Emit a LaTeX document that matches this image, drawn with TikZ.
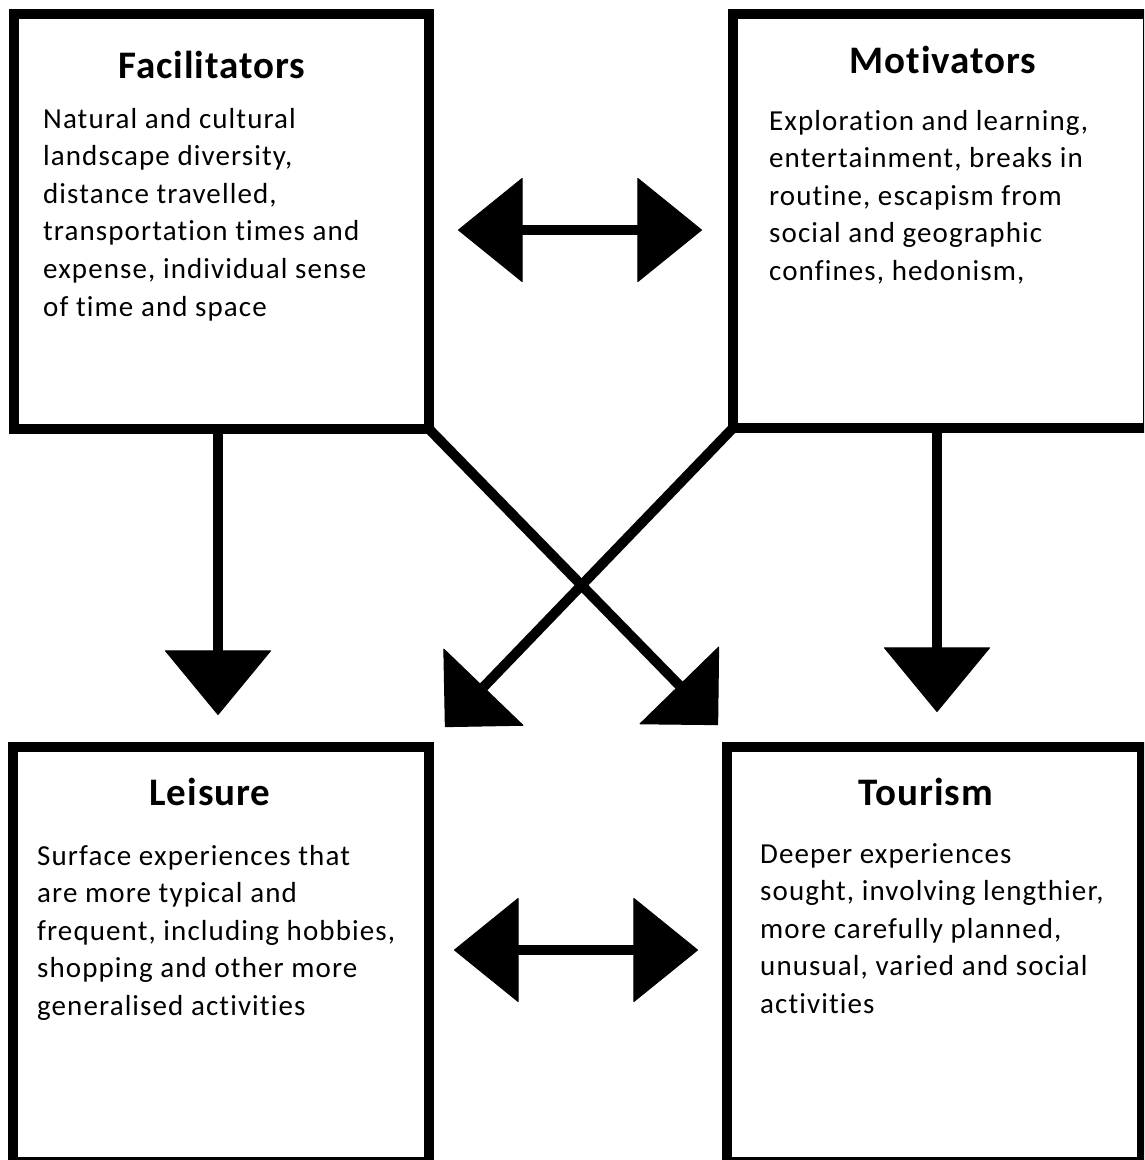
\documentclass[tikz,border=0pt]{standalone}
\usepackage{fontspec}
\setmainfont{Carlito}
\newfontfamily\bodyfont[LetterSpace=3.8,Ligatures=NoCommon]{Carlito}
\newfontfamily\titlefont[LetterSpace=2.5,Ligatures=NoCommon]{Carlito}
\usetikzlibrary{arrows.meta}
\tikzset{
  box/.style={draw, line width=10pt, inner sep=0pt, outer sep=0pt, minimum width=415pt, minimum height=415pt},
  title/.style={anchor=base, inner sep=0pt, font=\titlefont\bfseries\fontsize{39}{41}\selectfont},
  body/.style={anchor=base west, inner sep=0pt, font=\bodyfont\fontsize{29}{37.6}\selectfont},
  conn/.style={line width=10pt, -{Triangle[width=107pt,length=65pt,line width=1pt,round]}},
  dbl/.style={line width=10pt, {Triangle[width=105pt,length=65pt,line width=1pt,round]}-{Triangle[width=105pt,length=65pt,line width=1pt,round]}},
  diag/.style={line width=10pt, -{Triangle[width=112pt,length=56pt,line width=1pt,round]}}
}
\newcommand{\bodytext}[1]{\parbox[t]{420pt}{\raggedright #1}}
\begin{document}
\begin{tikzpicture}[x=1pt,y=-1pt]
\useasboundingbox (0,0) rectangle (1144,1160);
\fill[white] (0,0) rectangle (1144,1160);
\clip (0,0) rectangle (1144,1160);
% boxes
\node[box] (fac) at (221.5,221.5) {};
\node[box, minimum height=414pt] (mot) at (940.5,221) {};
\node[box, minimum width=416pt] (lei) at (221,954.5) {};
\node[box] (tou) at (934.5,954.5) {};
% titles
\node[title] (factitle) at (212,78) {Facilitators};
\node[title] (mottitle) at (943,73) {Motivators};
\node[title] (leititle) at (210,805) {Leisure};
\node[title] (toutitle) at (926,805) {Tourism};
% bodies
\node[body] (facbody) at (43,128) {\bodytext{Natural and cultural\\landscape diversity,\\distance travelled,\\transportation times and\\expense, individual sense\\of time and space}};
\node[body] (motbody) at (769,130) {\bodytext{Exploration and learning,\\entertainment, breaks in\\routine, escapism from\\social and geographic\\confines, hedonism,}};
\node[body] (leibody) at (37,865) {\bodytext{Surface experiences that\\are more typical and\\frequent, including hobbies,\\shopping and other more\\generalised activities}};
\node[body] (toubody) at (760,863) {\bodytext{Deeper experiences\\sought, involving lengthier,\\more carefully planned,\\unusual, varied and social\\activities}};
% helper coordinates
\coordinate (xl) at (218,0);
\coordinate (xr) at (937,0);
\coordinate (ytop) at (0,230);
\coordinate (ybot) at (0,950);
\coordinate (tipR) at (718,725);
\coordinate (tipL) at (445,727);
% vertical arrows
\draw[conn, shorten >=32pt] (fac.south -| xl) -- (lei.north -| xl);
\draw[conn, shorten >=35pt] (mot.south -| xr) -- (tou.north -| xr);
% double arrows
\draw[dbl, shorten <=29pt, shorten >=31pt] (fac.east |- ytop) -- (mot.west |- ytop);
\draw[dbl, shorten <=25pt, shorten >=29pt] (lei.east |- ybot) -- (tou.west |- ybot);
% diagonal arrows
\draw[diag] (fac.south east) -- (tipR);
\draw[diag] (mot.south west) -- (tipL);
\end{tikzpicture}
\end{document}
